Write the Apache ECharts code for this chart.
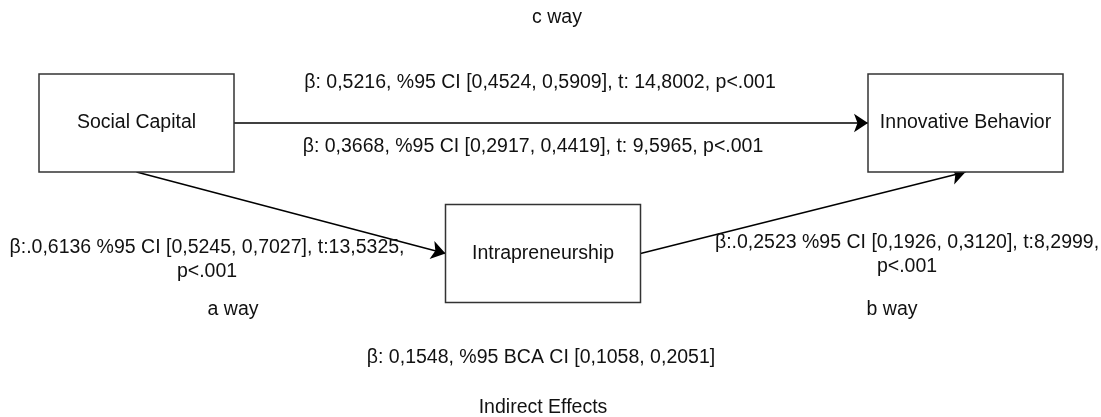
<!DOCTYPE html>
<html>
<head>
<meta charset="utf-8">
<script src="https://cdn.jsdelivr.net/npm/echarts@6/dist/echarts.min.js"></script>
<style>
  html, body { margin: 0; padding: 0; background: #fff; }
  #main { width: 1101px; height: 417px; }
</style>
</head>
<body>
<div id="main"></div>
<script>
// nodes of the path model
var nodeNames = ["Social Capital", "Innovative Behavior", "Intrapreneurship"];

// paths: from node, to node
var pathFrom = [0, 0, 2];
var pathTo = [1, 2, 1];

// path texts
var pathLabels = [
  "c way",
  "β: 0,5216, %95 CI [0,4524, 0,5909], t: 14,8002, p<.001",
  "β: 0,3668, %95 CI [0,2917, 0,4419], t: 9,5965, p<.001",
  "β:.0,6136 %95 CI [0,5245, 0,7027], t:13,5325,\np<.001",
  "a way",
  "β:.0,2523 %95 CI [0,1926, 0,3120], t:8,2999,\np<.001",
  "b way",
  "β: 0,1548, %95 BCA CI [0,1058, 0,2051]",
  "Indirect Effects",
];

/*-----------------------layout-----------------------------*/
var W = 1101, H = 417;
var BOX_W = 195, BOX_H = 98;
var nodePos = [[136.5, 123], [965.5, 123], [543, 253.5]];
// where each path leaves / enters a box
var pathAnchors = [["right", "left"], ["bottom", "left"], ["right", "bottom"]];
var labelPos = [
  [557, 18], [540, 83], [533, 147],
  [207, 260], [233, 310],
  [907, 255], [892, 310],
  [541, 358], [543, 408],
];
var FONT = "Liberation Sans, Arial, sans-serif";

function anchor(i, side) {
  var p = nodePos[i];
  if (side == "left") return [p[0] - BOX_W / 2, p[1]];
  if (side == "right") return [p[0] + BOX_W / 2, p[1]];
  if (side == "top") return [p[0], p[1] - BOX_H / 2];
  return [p[0], p[1] + BOX_H / 2];
}

var boxData = [];
for (var i = 0; i < nodeNames.length; i++) {
  boxData.push({ value: nodePos[i], name: nodeNames[i] });
}

var lineData = [];
for (var k = 0; k < pathFrom.length; k++) {
  lineData.push({
    coords: [anchor(pathFrom[k], pathAnchors[k][0]), anchor(pathTo[k], pathAnchors[k][1])],
  });
}

var textData = [];
for (var j = 0; j < pathLabels.length; j++) {
  textData.push({ value: labelPos[j], name: pathLabels[j] });
}

var myChart = echarts.init(document.getElementById("main"));
var option = {
  animation: false,
  backgroundColor: "#fff",
  grid: { left: 0, right: 0, top: 0, bottom: 0 },
  xAxis: { type: "value", min: 0, max: W, show: false },
  yAxis: { type: "value", min: 0, max: H, inverse: true, show: false },
  series: [
    {
      type: "lines",
      coordinateSystem: "cartesian2d",
      symbol: ["none", "arrow"],
      symbolSize: 14,
      lineStyle: { color: "#000", width: 1.5, opacity: 1 },
      data: lineData,
      z: 2,
    },
    {
      type: "custom",
      renderItem: function (params, api) {
        var c = api.coord([api.value(0), api.value(1)]);
        return {
          type: "group",
          children: [
            {
              type: "rect",
              shape: { x: c[0] - BOX_W / 2, y: c[1] - BOX_H / 2, width: BOX_W, height: BOX_H },
              style: { fill: "#fff", stroke: "#333", lineWidth: 1.5 },
            },
            {
              type: "text",
              x: c[0],
              y: c[1],
              style: {
                text: nodeNames[params.dataIndex],
                fill: "#111",
                font: "19.5px " + FONT,
                align: "center",
                verticalAlign: "middle",
              },
            },
          ],
        };
      },
      data: boxData,
      z: 3,
    },
    {
      type: "custom",
      renderItem: function (params, api) {
        var c = api.coord([api.value(0), api.value(1)]);
        return {
          type: "text",
          x: c[0],
          y: c[1],
          style: {
            text: pathLabels[params.dataIndex],
            fill: "#111",
            font: "19.5px " + FONT,
            lineHeight: 24,
            align: "center",
            verticalAlign: "middle",
          },
        };
      },
      data: textData,
      z: 4,
    },
  ],
};
myChart.setOption(option);
</script>
</body>
</html>
